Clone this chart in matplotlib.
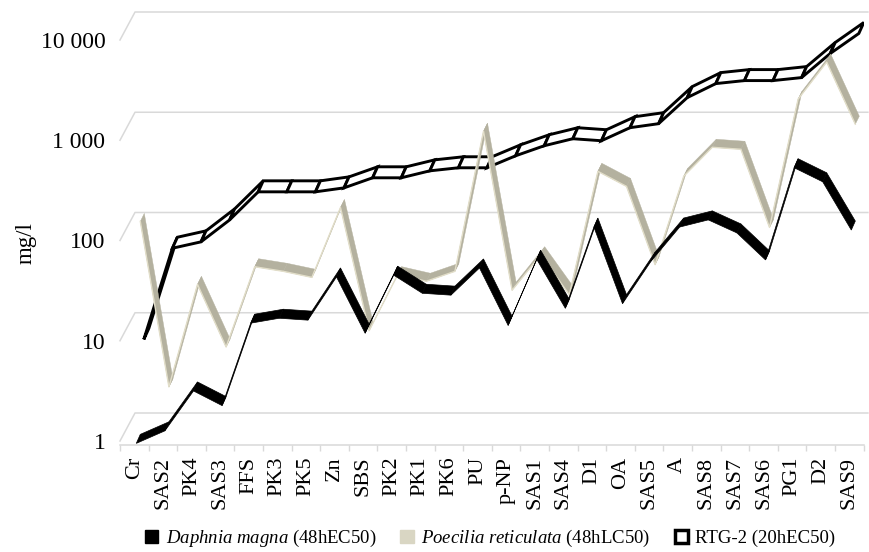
import numpy as np
import matplotlib.pyplot as plt
from matplotlib.patches import Polygon, Patch

plt.rcParams['font.family'] = 'Liberation Serif'
plt.rcParams['mathtext.fontset'] = 'custom'
plt.rcParams['mathtext.rm'] = 'Liberation Serif'
plt.rcParams['mathtext.it'] = 'Liberation Serif:italic'

# substances along the x axis
substances = ['Cr', 'SAS2', 'PK4', 'SAS3', 'FFS', 'PK3', 'PK5', 'Zn', 'SBS', 'PK2',
              'PK1', 'PK6', 'PU', 'p-NP', 'SAS1', 'SAS4', 'D1', 'OA', 'SAS5', 'A',
              'SAS8', 'SAS7', 'SAS6', 'PG1', 'D2', 'SAS9']

# toxicity values in mg/l
daphnia = [1.05, 1.4, 3.5, 2.5, 16.6, 18.6, 17.8, 48, 13.2, 50,
           33, 31.6, 59, 15.8, 72, 23.4, 151, 26, 69, 151,
           178, 132, 71, 590, 427, 141]
poecilia = [170, 3.8, 40, 9.5, 60, 54, 47, 234, 13.8, 50,
            43, 54, 1350, 35, 79, 31.6, 537, 380, 63, 479,
            933, 891, 148, 2818, 6600, 1585]
rtg2 = [11.7, 95, 110, 182, 347, 347, 347, 380, 479, 479,
        562, 603, 603, 794, 1000, 1175, 1122, 1514, 1660, 3020,
        4169, 4467, 4467, 4786, 8318, 13180]

yticks = [1, 10, 100, 1000, 10000]
ylabels = ['1', '10', '100', '1 000', '10 000']

# pixel geometry of the 3d-ish excel chart
px_cat = 28.6      # px per category
px_dec = 100.25    # px per decade
ymin = 10 ** (-4 / px_dec)
ymax = 10 ** (436 / px_dec)

fig = plt.figure(figsize=(8.69, 5.52), dpi=100)
ax = fig.add_axes([120 / 869, 1 - 445 / 552, 26 * px_cat / 869, 440 / 552])
ax.set_yscale('log')
ax.set_xlim(-0.5, 25.5)
ax.set_ylim(ymin, ymax)

# back wall gridlines with the slanted side part
fb = 10 ** (28 / px_dec)
for v in yticks:
    ax.plot([-0.5, -0.5 + 15 / px_cat, 25.65], [v, v * fb, v * fb],
            color='#d9d9d9', lw=1.1, clip_on=False, zorder=1)
# floor front edge
ax.plot([-0.5, 25.5], [ymin, ymin], color='#d9d9d9', lw=1.1, clip_on=False, zorder=1)


def ribbon(vals, shift, dx, dy, face, edge, lw, z):
    x = np.arange(len(vals)) + shift
    v = np.array(vals, float)
    hx = dx / 2 / px_cat
    fy = 10 ** (dy / 2 / px_dec)
    front = np.column_stack([x - hx, v / fy])
    back = np.column_stack([x + hx, v * fy])
    for i in range(len(v) - 1):
        quad = [front[i], front[i + 1], back[i + 1], back[i]]
        ax.add_patch(Polygon(quad, closed=True, facecolor=face, edgecolor=edge,
                             lw=lw, zorder=z, joinstyle='miter'))
    return front


ribbon(rtg2, 0.42, 5, 11, 'white', 'black', 2.1, 2)
fr = ribbon(poecilia, 0.28, 4, 8, '#b4b19f', '#b4b19f', 0.3, 3)
ax.plot(fr[:, 0], fr[:, 1], color='#e2dec9', lw=1.0, zorder=3.5)
ribbon(daphnia, 0.14, 4, 9, 'black', 'black', 0.5, 4)

# axes styling
for s in ax.spines.values():
    s.set_visible(False)
ax.set_xticks(range(len(substances)))
ax.set_xticklabels(substances, rotation=90, fontsize=16)
ax.set_xticks(np.arange(-0.5, 26, 1), minor=True)
ax.tick_params(axis='x', which='major', length=0, pad=8.5)
ax.tick_params(axis='x', which='minor', length=4.3, width=1, color='#d9d9d9')
ax.set_yticks(yticks)
ax.set_yticklabels(ylabels, fontsize=17)
ax.yaxis.set_minor_locator(plt.NullLocator())
ax.tick_params(axis='y', length=0, pad=10.5)

fig.text(26 / 869, 1 - 243 / 552, 'mg/l', rotation=90, ha='center', va='center', fontsize=16.5)

handles = [Patch(fc='black', ec='black'),
           Patch(fc='#d9d6c3', ec='#d9d6c3'),
           Patch(fc='white', ec='black', lw=2.5)]
labels = [r'$\mathit{Daphnia\ magna}$ (48hEC50)',
          r'$\mathit{Poecilia\ reticulata}$ (48hLC50)',
          'RTG-2 (20hEC50)']
fig.legend(handles, labels, loc='center', bbox_to_anchor=(0.564, 0.025), ncol=3,
           frameon=False, fontsize=13.5, handlelength=0.7, handleheight=0.7,
           handletextpad=0.4, columnspacing=1.3)

fig.savefig('out.png', dpi=100)
